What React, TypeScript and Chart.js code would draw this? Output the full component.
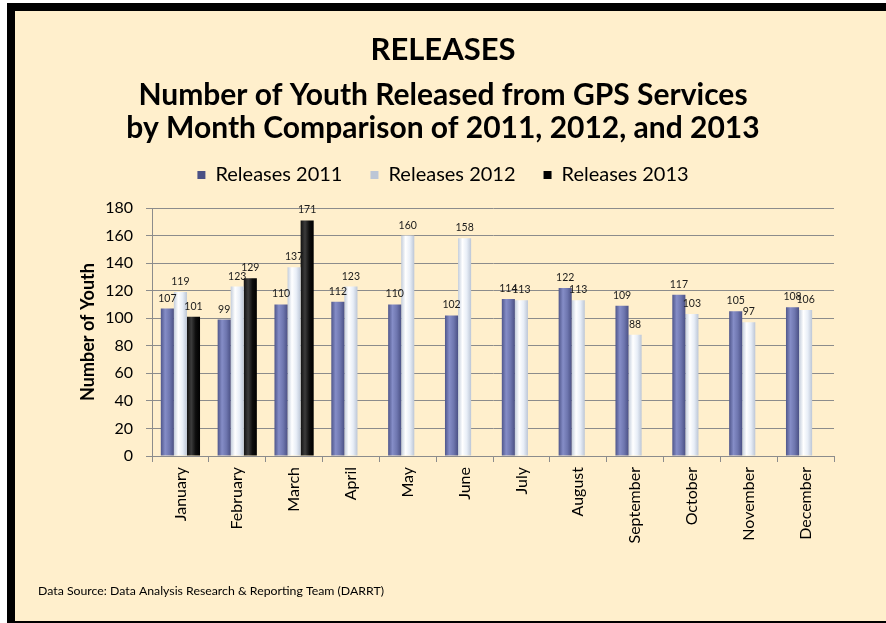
import React, { useEffect, useRef } from 'react';
import { Chart, registerables } from 'chart.js';

Chart.register(...registerables);

const months = ['January', 'February', 'March', 'April', 'May', 'June', 'July', 'August', 'September', 'October', 'November', 'December'];
const releases2011 = [107, 99, 110, 112, 110, 102, 114, 122, 109, 117, 105, 108];
const releases2012 = [119, 123, 137, 123, 160, 158, 113, 113, 88, 103, 97, 106];
const releases2013 = [101, 129, 171, null, null, null, null, null, null, null, null, null];
const yTickValues = [0, 20, 40, 60, 80, 100, 120, 140, 160, 180];

const titleText = 'RELEASES';
const subtitleLines = ['Number of Youth Released from GPS Services', 'by Month Comparison of 2011, 2012, and 2013'];
const yAxisTitle = 'Number of Youth';
const footerText = 'Data Source: Data Analysis Research & Reporting Team (DARRT)';

const FONT = 'Lato, "Open Sans", sans-serif';
const CAT_PCT = 0.69;

function barFill(stops: string[], solid: string) {
  return (c: any) => {
    const chart = c.chart;
    const xs = chart.scales ? chart.scales.x : null;
    if (c.type !== 'data' || c.dataIndex == null || !xs) return solid;
    const n = chart.data.labels.length;
    const catW = (xs.right - xs.left) / n;
    const center = xs.getPixelForValue(c.dataIndex);
    const nd = chart.data.datasets.length;
    const groupW = catW * CAT_PCT;
    const barW = groupW / nd;
    const left = center - groupW / 2 + c.datasetIndex * barW;
    if (!isFinite(left) || !isFinite(barW) || barW <= 0) return solid;
    const g = chart.ctx.createLinearGradient(left, 0, left + barW, 0);
    stops.forEach((s, i) => g.addColorStop(i / (stops.length - 1), s));
    return g;
  };
}

const framePlugin = {
  id: 'frame',
  beforeDraw(chart: any) {
    const { ctx, width, height } = chart;
    ctx.save();
    ctx.fillStyle = '#ffffff';
    ctx.fillRect(0, 0, width, height);
    ctx.fillStyle = '#000000';
    ctx.fillRect(7, 3, width - 7, height - 3);
    ctx.fillStyle = '#FFEFCC';
    ctx.fillRect(15, 11, width - 15, height - 13);
    ctx.restore();
  },
};

const valueLabelPlugin = {
  id: 'valueLabels',
  afterDatasetsDraw(chart: any) {
    const ctx = chart.ctx;
    ctx.save();
    ctx.font = `10.5px ${FONT}`;
    ctx.fillStyle = '#1a1a1a';
    ctx.textAlign = 'center';
    ctx.textBaseline = 'alphabetic';
    chart.data.datasets.forEach((ds: any, i: number) => {
      const meta = chart.getDatasetMeta(i);
      meta.data.forEach((el: any, j: number) => {
        const v = ds.data[j];
        if (v == null) return;
        ctx.fillText(String(v), el.x, el.y - 7);
      });
    });
    ctx.restore();
  },
};

const footerPlugin = {
  id: 'footer',
  afterDraw(chart: any) {
    const ctx = chart.ctx;
    ctx.save();
    ctx.font = `12.3px ${FONT}`;
    ctx.fillStyle = '#000';
    ctx.textAlign = 'left';
    ctx.textBaseline = 'middle';
    ctx.fillText(footerText, 38, 591);
    ctx.restore();
  },
};

export default function App() {
  const ref = useRef<HTMLCanvasElement>(null);

  useEffect(() => {
    if (!ref.current) return;
    const chart = new Chart(ref.current, {
      type: 'bar',
      data: {
        labels: months,
        datasets: [
          {
            label: 'Releases 2011',
            data: releases2011,
            backgroundColor: barFill(['#4f568b', '#858dc7', '#6e76af', '#4b5185'], '#6a72aa'),
            borderWidth: 0,
          },
          {
            label: 'Releases 2012',
            data: releases2012,
            backgroundColor: barFill(['#c3cddc', '#ffffff', '#e8eef7', '#bcc6d6'], '#dde5f0'),
            borderWidth: 0,
          },
          {
            label: 'Releases 2013',
            data: releases2013,
            backgroundColor: barFill(['#111111', '#3c3c3c', '#0d0d0d', '#000000'], '#111111'),
            borderWidth: 0,
          },
        ],
      } as any,
      options: {
        responsive: false,
        animation: false,
        devicePixelRatio: 1,
        events: [],
        layout: { padding: { left: 52, right: 52, top: 0, bottom: 57 } },
        datasets: { bar: { categoryPercentage: CAT_PCT, barPercentage: 1 } },
        plugins: {
          title: {
            display: true,
            text: titleText,
            color: '#000',
            font: { family: FONT, size: 31, weight: 'bold', lineHeight: 1 },
            padding: { top: 34, bottom: 0 },
          },
          subtitle: {
            display: true,
            text: subtitleLines,
            color: '#000',
            font: { family: FONT, size: 30, weight: 'bold', lineHeight: 33 / 30 },
            padding: { top: 14, bottom: -8 },
          },
          legend: {
            display: true,
            position: 'top',
            labels: {
              boxWidth: 8,
              boxHeight: 8,
              padding: 28,
              color: '#000',
              font: { family: FONT, size: 20 },
            },
          },
          tooltip: { enabled: false },
        },
        scales: {
          x: {
            type: 'category',
            position: 'bottom',
            grid: { display: true, drawOnChartArea: false, drawTicks: true, tickLength: 6, color: '#8c8c8c', offset: true },
            border: { display: true, color: '#8c8c8c', width: 1 },
            ticks: {
              autoSkip: false,
              minRotation: 90,
              maxRotation: 90,
              padding: 5,
              color: '#000',
              font: { family: FONT, size: 16 },
            },
            afterFit: (s: any) => { s.height = 110; },
          },
          spacer: {
            type: 'category',
            position: 'top',
            labels: [''],
            display: true,
            grid: { display: false },
            border: { display: false },
            ticks: { display: false },
            afterFit: (s: any) => { s.height = 13; },
          },
          y: {
            type: 'linear',
            min: 0,
            max: 180,
            afterBuildTicks: (s: any) => { s.ticks = yTickValues.map((v) => ({ value: v })); },
            grid: { color: '#8c8c8c', tickLength: 6, lineWidth: 1 },
            border: { display: true, color: '#8c8c8c', width: 1 },
            ticks: { padding: 13, color: '#000', font: { family: FONT, size: 16 } },
            title: {
              display: true,
              text: yAxisTitle,
              color: '#000',
              font: { family: FONT, size: 18, weight: 'bold', lineHeight: 1.2 },
              padding: { top: 25, bottom: 0 },
            },
            afterFit: (s: any) => { s.width = 100; },
          },
        },
      } as any,
      plugins: [framePlugin, valueLabelPlugin, footerPlugin],
    });
    return () => chart.destroy();
  }, []);

  return (
    <div style={{ position: 'absolute', left: 0, top: 0, width: 886, height: 623 }}>
      <canvas ref={ref} width={886} height={623} style={{ display: 'block' }} />
    </div>
  );
}
